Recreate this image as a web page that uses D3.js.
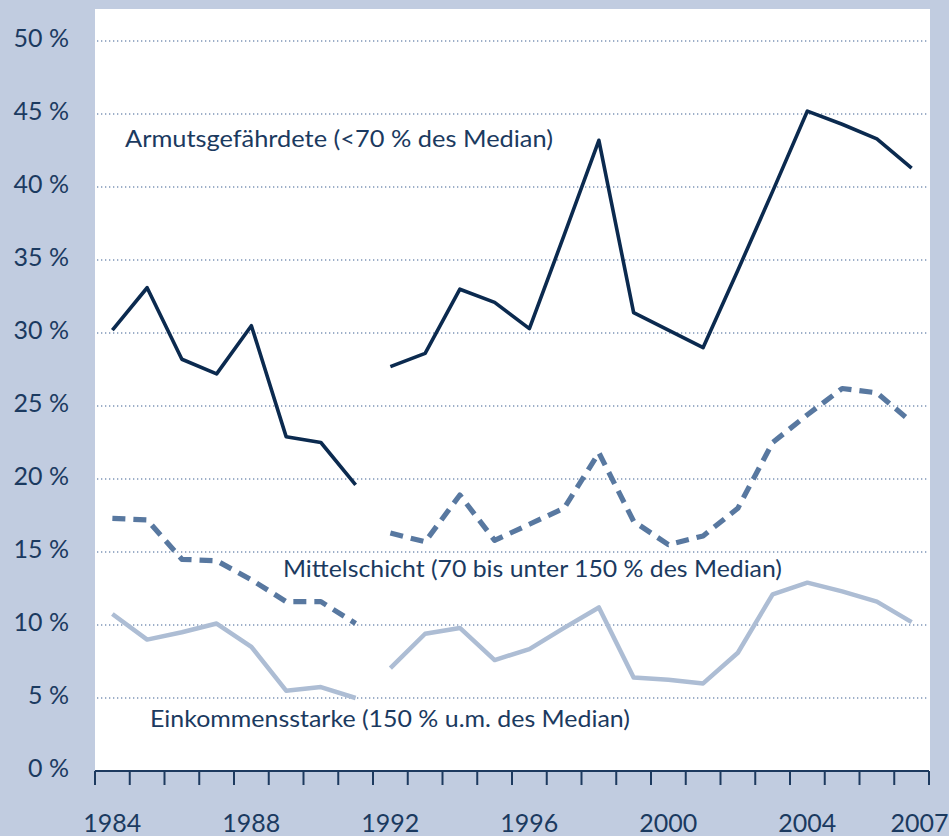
<!DOCTYPE html>
<html>
<head>
<meta charset="utf-8">
<script src="https://cdn.jsdelivr.net/npm/d3@7"></script>
<style>
  html, body { margin: 0; padding: 0; background: #c1cce0; }
  svg { display: block; }
  text { font-family: Lato, "Open Sans", sans-serif; font-weight: 400; fill: #1b3a60; }
</style>
</head>
<body>
<div id="chart"></div>
<script>
// years and values (percent)
const years = d3.range(1984, 2008);
const breakAfter = 1991; // series are interrupted between 1991 and 1992

const armut = [30.2, 33.1, 28.2, 27.2, 30.5, 22.9, 22.5, 19.6,
  27.7, 28.6, 33.0, 32.1, 30.3, 36.7, 43.2, 31.4, 30.2, 29.0, 34.3, 39.7, 45.2, 44.3, 43.3, 41.3];
const mitte = [17.3, 17.2, 14.5, 14.4, 13.1, 11.6, 11.6, 10.1,
  16.3, 15.7, 18.9, 15.8, 16.9, 18.0, 21.8, 17.1, 15.5, 16.1, 18.0, 22.5, 24.4, 26.2, 25.9, 23.9];
const stark = [10.75, 9.0, 9.5, 10.1, 8.5, 5.5, 5.75, 5.0,
  7.05, 9.4, 9.8, 7.6, 8.35, 9.8, 11.2, 6.4, 6.25, 6.0, 8.1, 12.1, 12.9, 12.3, 11.6, 10.2];

const yTicks = [5, 10, 15, 20, 25, 30, 35, 40, 45, 50];
const yLabels = [0, 5, 10, 15, 20, 25, 30, 35, 40, 45, 50];
const xLabels = [1984, 1988, 1992, 1996, 2000, 2004, 2007];

const seriesLabels = [
  { text: "Armutsgefährdete (<70 % des Median)", x: 125, y: 147, w: 428 },
  { text: "Mittelschicht (70 bis unter 150 % des Median)", x: 283, y: 577, w: 499 },
  { text: "Einkommensstarke (150 % u.m. des Median)", x: 150, y: 727, w: 480 }
];

const W = 949, H = 836;
const plot = { left: 95, right: 930, top: 9, bottom: 771 };

const svg = d3.select("#chart").append("svg")
  .attr("width", W).attr("height", H);

svg.append("rect")
  .attr("x", plot.left).attr("y", plot.top)
  .attr("width", plot.right - plot.left)
  .attr("height", plot.bottom - plot.top)
  .attr("fill", "#fff");

const x = d3.scaleBand().domain(years).range([95, 929]);
const y = d3.scaleLinear().domain([0, 50]).range([771, 41]);
const cx = (yr) => x(yr) + x.bandwidth() / 2;

// grid
svg.append("g")
  .selectAll("line")
  .data(yTicks)
  .join("line")
  .attr("x1", 97).attr("x2", 928)
  .attr("y1", (d) => y(d)).attr("y2", (d) => y(d))
  .attr("stroke", "#7d95b7")
  .attr("stroke-width", 1.3)
  .attr("stroke-dasharray", "1.3,2.7");

// y labels
svg.append("g")
  .selectAll("text")
  .data(yLabels)
  .join("text")
  .attr("x", 69)
  .attr("y", (d) => y(d) + 6)
  .attr("text-anchor", "end")
  .attr("font-size", 25)
  .text((d) => d + " %");

// x axis
const xAxis = svg.append("g").attr("transform", `translate(0,${plot.bottom})`);
xAxis.append("line")
  .attr("x1", 95).attr("x2", 929)
  .attr("stroke", "#1d3a5f").attr("stroke-width", 2);
xAxis.selectAll("line.tick")
  .data(years.concat([2008]))
  .join("line")
  .attr("class", "tick")
  .attr("x1", (d) => (d === 2008 ? 929 : x(d)))
  .attr("x2", (d) => (d === 2008 ? 929 : x(d)))
  .attr("y1", 0).attr("y2", 14)
  .attr("stroke", "#1d3a5f").attr("stroke-width", 2);
xAxis.selectAll("text")
  .data(xLabels)
  .join("text")
  .attr("x", (d) => cx(d) + (d === 2007 ? 8 : 0))
  .attr("y", 61)
  .attr("text-anchor", "middle")
  .attr("font-size", 25)
  .text((d) => d);

// lines
function segments(values) {
  const pts = years.map((yr, i) => ({ yr, v: values[i] }));
  return [pts.filter((d) => d.yr <= breakAfter), pts.filter((d) => d.yr > breakAfter)];
}
const line = d3.line().x((d) => cx(d.yr)).y((d) => y(d.v));

const styles = [
  { data: stark, color: "#adbdd4", width: 4.5, dash: null },
  { data: mitte, color: "#5878a0", width: 5.2, dash: "13,8" },
  { data: armut, color: "#0b2a4f", width: 3.6, dash: null }
];

styles.forEach((s) => {
  svg.append("g")
    .selectAll("path")
    .data(segments(s.data))
    .join("path")
    .attr("d", line)
    .attr("fill", "none")
    .attr("stroke", s.color)
    .attr("stroke-width", s.width)
    .attr("stroke-linejoin", "round")
    .attr("stroke-dasharray", s.dash);
});

// series labels
svg.append("g")
  .selectAll("text")
  .data(seriesLabels)
  .join("text")
  .attr("x", (d) => d.x)
  .attr("y", (d) => d.y)
  .attr("font-size", 24)
  .attr("textLength", (d) => d.w)
  .attr("lengthAdjust", "spacingAndGlyphs")
  .text((d) => d.text);
</script>
</body>
</html>
